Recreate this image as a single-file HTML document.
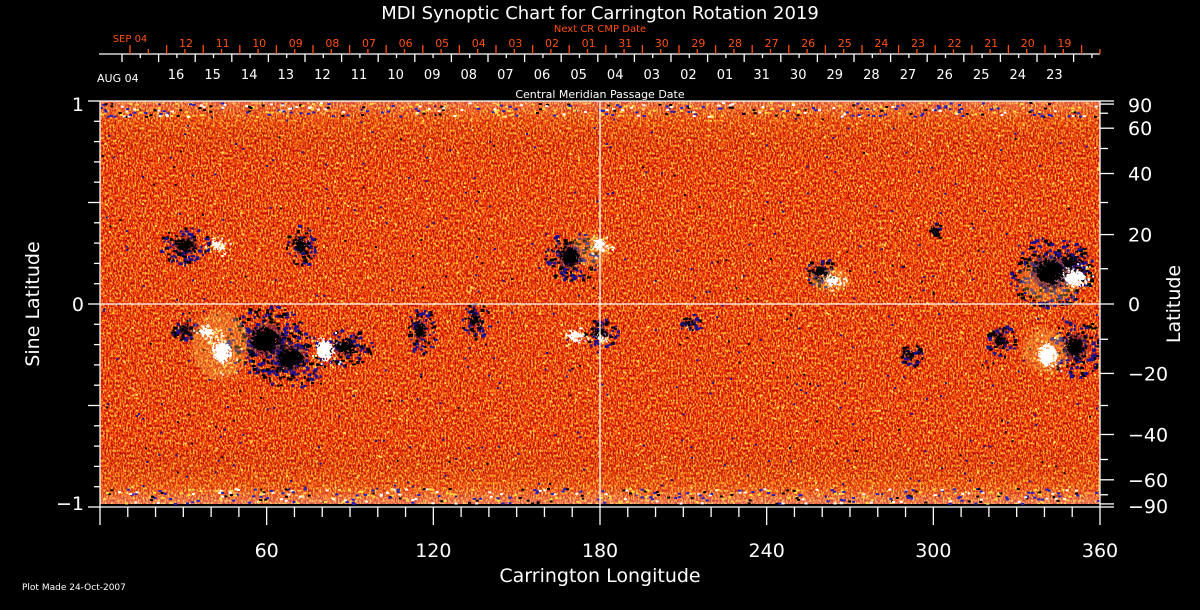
<!DOCTYPE html>
<html><head><meta charset="utf-8"><style>
html,body{margin:0;padding:0;background:#000;}
svg{display:block;font-family:"DejaVu Sans","Liberation Sans",sans-serif;}
</style></head><body>
<svg id="s" width="1200" height="610" viewBox="0 0 1200 610" xmlns="http://www.w3.org/2000/svg">
<defs>
<filter id="nz" x="100" y="101" width="1000" height="403" filterUnits="userSpaceOnUse" color-interpolation-filters="sRGB">
<feTurbulence type="fractalNoise" baseFrequency="0.6 0.4" numOctaves="2" seed="3" result="t"/>
<feColorMatrix in="t" type="matrix" values="3 0 0 0 -1  3 0 0 0 -1  3 0 0 0 -1  0 0 0 0 1"/>
<feComponentTransfer>
<feFuncR type="table" tableValues="0.7 0.85 0.92 0.96 1 1"/>
<feFuncG type="table" tableValues="0.05 0.12 0.22 0.32 0.45 0.75"/>
<feFuncB type="table" tableValues="0.05 0.03 0.04 0.05 0.08 0.25"/>
<feFuncA type="table" tableValues="1 1"/>
</feComponentTransfer>
</filter>
<filter id="rough" x="-50%" y="-50%" width="200%" height="200%" color-interpolation-filters="sRGB">
<feTurbulence type="fractalNoise" baseFrequency="0.4" numOctaves="2" seed="7" result="t"/>
<feDisplacementMap in="SourceGraphic" in2="t" scale="16"/>
</filter>
<linearGradient id="belt" x1="0" y1="0" x2="0" y2="1">
<stop offset="0" stop-color="#fff" stop-opacity="0.25"/>
<stop offset="0.05" stop-color="#ffd040" stop-opacity="0.1"/>
<stop offset="0.15" stop-color="#000" stop-opacity="0"/>
<stop offset="0.85" stop-color="#000" stop-opacity="0"/>
<stop offset="0.95" stop-color="#ffd040" stop-opacity="0.12"/>
<stop offset="1" stop-color="#fff" stop-opacity="0.3"/>
</linearGradient>
</defs>
<rect x="0" y="0" width="1200" height="610" fill="#000"/>
<rect x="100" y="101" width="1000" height="403" filter="url(#nz)"/>
<rect x="100" y="101" width="1000" height="403" fill="url(#belt)"/>
<g id="spk"></g>
<g id="blobs" filter="url(#rough)"></g>
<g id="ax" stroke="#fff" stroke-width="1.3" fill="none"></g>
<g id="tx" fill="#fff"></g>
</svg>
<script>
const NS="http://www.w3.org/2000/svg";
const ax=document.getElementById('ax'),tx=document.getElementById('tx'),bl=document.getElementById('blobs'),sp0=document.getElementById('spk');
let seed=12345;function rnd(){seed=(seed*1103515245+12345)%2147483648;return seed/2147483648;}
function L(x1,y1,x2,y2,c){const e=document.createElementNS(NS,'line');e.setAttribute('x1',x1);e.setAttribute('y1',y1);e.setAttribute('x2',x2);e.setAttribute('y2',y2);if(c)e.setAttribute('stroke',c);ax.appendChild(e);}
function T(x,y,s,sz,anc,c){const e=document.createElementNS(NS,'text');e.setAttribute('x',x);e.setAttribute('y',y);e.setAttribute('font-size',sz);e.setAttribute('text-anchor',anc||'middle');if(c)e.setAttribute('fill',c);e.textContent=s;tx.appendChild(e);}
function E(cx,cy,rx,ry,c,o){const e=document.createElementNS(NS,'ellipse');e.setAttribute('cx',cx);e.setAttribute('cy',cy);e.setAttribute('rx',rx);e.setAttribute('ry',ry);e.setAttribute('fill',c);if(o)e.setAttribute('opacity',o);bl.appendChild(e);}
function R(x,y,w,h,c){const e=document.createElementNS(NS,'rect');e.setAttribute('x',x.toFixed(1));e.setAttribute('y',y.toFixed(1));e.setAttribute('width',w);e.setAttribute('height',h);e.setAttribute('fill',c);sp0.appendChild(e);}
// global sparse speckles
for(let i=0;i<900;i++){const x=100+rnd()*998,y=102+rnd()*400;const r=rnd();R(x,y,2,2,r<0.35?'#1a1090':r<0.5?'#000':'#ffe060');}
// polar noisy bands
for(let i=0;i<700;i++){const x=100+rnd()*998;const top=rnd()<0.5;const y=top?102+rnd()*14:488+rnd()*15;const r=rnd();R(x,y,3,2,r<0.3?'#2020c0':r<0.55?'#fff':r<0.75?'#000':'#ffe040');}
[[220,345,28,35],[590,250,20,16],[1050,280,30,22],[1045,350,22,22],[830,280,20,12]].forEach(b=>E(b[0],b[1],b[2],b[3],'#ffd060',0.3));
const dark=[[185,245,9,6],[300,245,5,7],[570,257,9,9],[820,272,6,5],[1050,272,14,12],[1070,262,7,6],[935,230,2,3],
[185,330,5,4],[265,340,14,12],[290,358,12,10],[345,347,9,6],[420,330,5,8],[475,320,5,6],[600,333,6,5],[690,322,4,3],[910,355,4,4],[1075,347,9,10],[1000,340,5,6]];
dark.forEach(b=>{const n=Math.round(b[2]*b[3]*1.2)+15;for(let i=0;i<n;i++){const a=rnd()*6.283,d=Math.sqrt(rnd())*3;R(b[0]+Math.cos(a)*b[2]*d,b[1]+Math.sin(a)*b[3]*d,2+Math.floor(rnd()*3),2+Math.floor(rnd()*2),rnd()<0.5?'#000':'#1a1090');}});
dark.forEach(b=>{E(b[0],b[1],b[2]*1.4,b[3]*1.4,'#201070',0.4);E(b[0],b[1],b[2],b[3],'#000');});
const white=[[218,245,6,5],[325,350,8,10],[600,245,6,6],[575,336,8,5],[833,281,7,5],[1075,278,10,8],[1048,355,9,11],[207,332,7,5],[222,352,9,11],[600,337,3,3]];
white.forEach(b=>{for(let i=0;i<25;i++){const a=rnd()*6.283,d=Math.sqrt(rnd())*2.2;R(b[0]+Math.cos(a)*b[2]*d,b[1]+Math.sin(a)*b[3]*d,2,2,rnd()<0.5?'#fff':'#ffe860');}});
white.forEach(b=>E(b[0],b[1],b[2],b[3],'#fff'));
L(100,101,1100,101);L(100,507,1100,507);L(100,101,100,507);L(1100,101,1100,507);
L(100,304,1100,304);L(600,101,600,507);
for(let d=0;d<=360;d+=10){const x=100+d*1000/360;const big=d%60==0;L(x,507,x,big?525:517);}
[60,120,180,240,300,360].forEach(d=>T(100+d*1000/360,557,String(d),19));
for(let i=-10;i<=10;i++){const y=304-i*20.3;L(100,y,i%5==0?88:94,y);}
T(84,111,'1',19,'end');T(84,311,'0',19,'end');T(84,510,'−1',19,'end');
for(let lat=-90;lat<=90;lat+=10){const y=304-203*Math.sin(lat*Math.PI/180);L(1100,y,lat%20==0||Math.abs(lat)==90||Math.abs(lat)==60?1114:1108,y);}
[[90,''],[60,''],[40,''],[20,''],[0,''],[-20,'−'],[-40,'−'],[-60,'−'],[-90,'−']].forEach(a=>{const y=304-203*Math.sin(a[0]*Math.PI/180)+(a[0]==90?4:a[0]==-90?-1:0);T(1128,y+7,a[1]+Math.abs(a[0]),19,'start');});
L(99,54,1100,54);
const sp=36.6;
for(let k=0;k<27;k++){let x=122+k*sp;if(x<1100)L(x,54,x,62);let m=x+18.3;if(m<1100)L(m,54,m,58);}
for(let k=0;k<27;k++){let x=130+k*sp;if(x<1100)L(x,45,x,54,'#ff5010');let m=x+18.3;if(m<1100)L(m,49,m,54,'#ff5010');}
const wl=['16','15','14','13','12','11','10','09','08','07','06','05','04','03','02','01','31','30','29','28','27','26','25','24','23'];
wl.forEach((s,i)=>T(176+i*sp,79,s,13));
T(97,82,'AUG 04',11,'start');
const rl=['12','11','10','09','08','07','06','05','04','03','02','01','31','30','29','28','27','26','25','24','23','22','21','20','19'];
rl.forEach((s,i)=>T(186+i*sp,47,s,11,'middle','#ff5010'));
T(130,42,'SEP 04',10,'middle','#ff5010');
T(600,32,'Next CR CMP Date',10,'middle','#ff5010');
T(600,98,'Central Meridian Passage Date',11);
T(600,19,'MDI Synoptic Chart for Carrington Rotation 2019',18);
T(600,582,'Carrington Longitude',19);
T(22,590,'Plot Made 24-Oct-2007',9,'start');
const a=document.createElementNS(NS,'text');a.setAttribute('transform','translate(39,304) rotate(-90)');a.setAttribute('font-size',19);a.setAttribute('text-anchor','middle');a.textContent='Sine Latitude';tx.appendChild(a);
const b=document.createElementNS(NS,'text');b.setAttribute('transform','translate(1180,304) rotate(-90)');b.setAttribute('font-size',19);b.setAttribute('text-anchor','middle');b.textContent='Latitude';tx.appendChild(b);
</script>
</body></html>
